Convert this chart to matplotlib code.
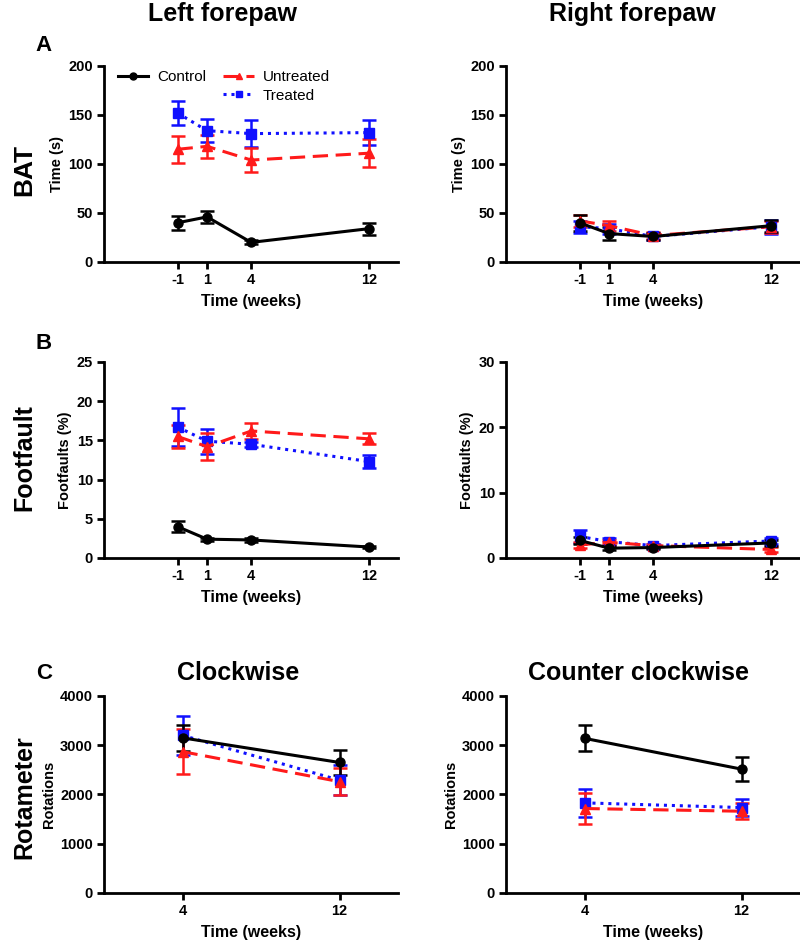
import numpy as np
import matplotlib
matplotlib.use("Agg")
import matplotlib.pyplot as plt
from matplotlib.lines import Line2D

plt.rcParams['font.family'] = ['Liberation Sans', 'DejaVu Sans']

# ---- data ----
weeks = [-1, 1, 4, 12]
rot_weeks = [4, 12]

# BAT, left forepaw (s)
bat_l_ctrl = [40, 46, 20, 34]
bat_l_ctrl_err = [7, 6, 2, 6]
bat_l_untr = [115, 118, 104, 111]
bat_l_untr_err = [14, 12, 12, 14]
bat_l_trt = [152, 134, 131, 132]
bat_l_trt_err = [12, 12, 14, 13]

# BAT, right forepaw (s)
bat_r_ctrl = [40, 29, 26, 37]
bat_r_ctrl_err = [8, 7, 4, 6]
bat_r_untr = [42, 37, 27, 36]
bat_r_untr_err = [6, 5, 4, 6]
bat_r_trt = [36, 34, 26, 36]
bat_r_trt_err = [6, 5, 4, 7]

# Footfault, left forepaw (%)
ff_l_ctrl = [4.0, 2.4, 2.3, 1.4]
ff_l_ctrl_err = [0.7, 0.2, 0.2, 0.15]
ff_l_untr = [15.5, 14.2, 16.2, 15.2]
ff_l_untr_err = [1.5, 1.7, 1.0, 0.7]
ff_l_trt = [16.7, 14.9, 14.5, 12.3]
ff_l_trt_err = [2.4, 1.6, 0.3, 0.8]

# Footfault, right forepaw (%)
ff_r_ctrl = [2.7, 1.5, 1.6, 2.3]
ff_r_ctrl_err = [0.5, 0.3, 0.3, 0.4]
ff_r_untr = [2.0, 2.4, 1.9, 1.3]
ff_r_untr_err = [0.4, 0.4, 0.3, 0.4]
ff_r_trt = [3.3, 2.5, 1.9, 2.6]
ff_r_trt_err = [1.0, 0.5, 0.3, 0.5]

# Rotameter (rotations)
cw_ctrl = [3150, 2650]
cw_ctrl_err = [265, 260]
cw_untr = [2870, 2260]
cw_untr_err = [450, 280]
cw_trt = [3200, 2290]
cw_trt_err = [390, 300]

ccw_ctrl = [3140, 2515]
ccw_ctrl_err = [265, 250]
ccw_untr = [1715, 1660]
ccw_untr_err = [310, 165]
ccw_trt = [1830, 1735]
ccw_trt_err = [290, 180]

groups = ["Control", "Untreated", "Treated"]
styles = {
    "Control": dict(color="black", ls="-", marker="o", ms=6.5),
    "Untreated": dict(color="#ff1a1a", ls=(0, (5, 2.5)), marker="^", ms=6.5),
    "Treated": dict(color="#1010ff", ls=(0, (1, 1.6)), marker="s", ms=6.5),
}


def panel(ax, x, series, xlim, ylim, yticks, xticks, ylabel):
    # draw treated, untreated, then control on top
    for name in ["Treated", "Untreated", "Control"]:
        y, e = series[name]
        st = styles[name]
        ax.errorbar(x, y, yerr=e, color=st["color"], ls=st["ls"], lw=2.2,
                    marker=st["marker"], ms=st["ms"], capsize=5,
                    capthick=1.8, elinewidth=1.8)
    ax.set_xlim(*xlim)
    ax.set_ylim(*ylim)
    ax.set_yticks(yticks)
    ax.set_xticks(xticks)
    ax.set_xticklabels([str(t) for t in xticks], fontweight="bold", fontsize=10.5)
    ax.set_yticklabels([str(t) for t in yticks], fontweight="bold", fontsize=10.5)
    for s in ["top", "right"]:
        ax.spines[s].set_visible(False)
    for s in ["left", "bottom"]:
        ax.spines[s].set_linewidth(2.0)
    ax.tick_params(width=2.0, length=5, pad=3)
    ax.set_xlabel("Time (weeks)", fontweight="bold", fontsize=11.5, labelpad=5)
    ax.set_ylabel(ylabel, fontweight="bold", fontsize=10.5, labelpad=3)


fig = plt.figure(figsize=(8, 9.4), dpi=100)

W = 0.368
axA1 = fig.add_axes([0.13, 0.7213, W, 0.2085])
axA2 = fig.add_axes([0.6325, 0.7213, W, 0.2085])
axB1 = fig.add_axes([0.13, 0.4064, W, 0.2085])
axB2 = fig.add_axes([0.6325, 0.4064, W, 0.2085])
axC1 = fig.add_axes([0.13, 0.05, W, 0.2096])
axC2 = fig.add_axes([0.6325, 0.05, W, 0.2096])

panel(axA1, weeks, {"Control": (bat_l_ctrl, bat_l_ctrl_err),
                    "Untreated": (bat_l_untr, bat_l_untr_err),
                    "Treated": (bat_l_trt, bat_l_trt_err)},
      (-6, 14), (0, 200), [0, 50, 100, 150, 200], weeks, "Time (s)")
panel(axA2, weeks, {"Control": (bat_r_ctrl, bat_r_ctrl_err),
                    "Untreated": (bat_r_untr, bat_r_untr_err),
                    "Treated": (bat_r_trt, bat_r_trt_err)},
      (-6, 14), (0, 200), [0, 50, 100, 150, 200], weeks, "Time (s)")
panel(axB1, weeks, {"Control": (ff_l_ctrl, ff_l_ctrl_err),
                    "Untreated": (ff_l_untr, ff_l_untr_err),
                    "Treated": (ff_l_trt, ff_l_trt_err)},
      (-6, 14), (0, 25), [0, 5, 10, 15, 20, 25], weeks, "Footfaults (%)")
panel(axB2, weeks, {"Control": (ff_r_ctrl, ff_r_ctrl_err),
                    "Untreated": (ff_r_untr, ff_r_untr_err),
                    "Treated": (ff_r_trt, ff_r_trt_err)},
      (-6, 14), (0, 30), [0, 10, 20, 30], weeks, "Footfaults (%)")
panel(axC1, rot_weeks, {"Control": (cw_ctrl, cw_ctrl_err),
                        "Untreated": (cw_untr, cw_untr_err),
                        "Treated": (cw_trt, cw_trt_err)},
      (0, 15), (0, 4000), [0, 1000, 2000, 3000, 4000], rot_weeks, "Rotations")
panel(axC2, rot_weeks, {"Control": (ccw_ctrl, ccw_ctrl_err),
                        "Untreated": (ccw_untr, ccw_untr_err),
                        "Treated": (ccw_trt, ccw_trt_err)},
      (0, 15), (0, 4000), [0, 1000, 2000, 3000, 4000], rot_weeks, "Rotations")

# legend in first panel: Control | Untreated / (blank) | Treated
hd = {g: Line2D([], [], color=styles[g]["color"], ls=styles[g]["ls"], lw=2.2,
                marker=styles[g]["marker"], ms=5) for g in groups}
blank = Line2D([], [], color="none")
axA1.legend([hd["Control"], blank, hd["Untreated"], hd["Treated"]],
            ["Control", "", "Untreated", "Treated"], ncol=2, frameon=False,
            loc="upper left", bbox_to_anchor=(0.0, 1.05), fontsize=11,
            handlelength=2.0, handletextpad=0.6, columnspacing=1.1,
            labelspacing=0.3)

# column / row titles
fig.text(0.278, 0.985, "Left forepaw", ha="center", va="center",
         fontsize=18, fontweight="bold")
fig.text(0.79, 0.985, "Right forepaw", ha="center", va="center",
         fontsize=18, fontweight="bold")
fig.text(0.055, 0.952, "A", ha="center", va="center", fontsize=16, fontweight="bold")
fig.text(0.055, 0.635, "B", ha="center", va="center", fontsize=16, fontweight="bold")
fig.text(0.055, 0.284, "C", ha="center", va="center", fontsize=16, fontweight="bold")
fig.text(0.03, 0.819, "BAT", ha="center", va="center", rotation=90,
         fontsize=19, fontweight="bold")
fig.text(0.03, 0.513, "Footfault", ha="center", va="center", rotation=90,
         fontsize=18, fontweight="bold")
fig.text(0.03, 0.152, "Rotameter", ha="center", va="center", rotation=90,
         fontsize=18, fontweight="bold")
fig.text(0.298, 0.284, "Clockwise", ha="center", va="center",
         fontsize=18, fontweight="bold")
fig.text(0.798, 0.284, "Counter clockwise", ha="center", va="center",
         fontsize=18, fontweight="bold")

fig.savefig("out.png", dpi=100)
